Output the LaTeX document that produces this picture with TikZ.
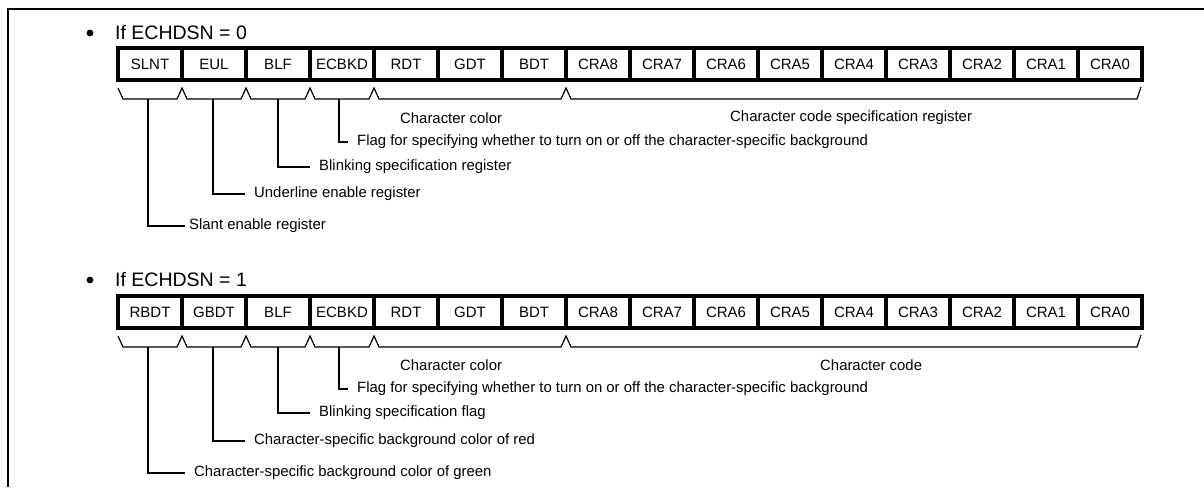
\documentclass[tikz,border=0pt]{standalone}
\usepackage{fontspec}
\setmainfont{Liberation Sans}
\begin{document}
\begin{tikzpicture}[x=1pt,y=-1pt,
  cell/.style={draw,line width=4pt,minimum width=64pt,minimum height=32pt,inner sep=0pt,outer sep=0pt,font=\fontsize{15}{17}\selectfont},
  thinl/.style={line width=1.2pt},
  lead/.style={line width=1.6pt},
  frame/.style={line width=1.6pt},
  lbl/.style={anchor=west,inner ysep=0pt,inner xsep=#1,font=\fontsize{14.9}{17}\selectfont},
  lbl/.default=9pt,
  txt/.style={anchor=west,inner sep=0pt,font=\fontsize{14.9}{17}\selectfont},
  head/.style={anchor=west,inner sep=0pt,font=\fontsize{19.5}{23}\selectfont},
  bul/.style={circle,fill,inner sep=0pt,minimum size=6.8pt}]
\useasboundingbox (0,0) rectangle (1204,487);
% frame
\draw[frame] (8,487) -- (8,9) -- (1204,9);

% ---------- row 1 ----------
\node[bul] (bu1) at (90,33) {};
\node[head] (h1) at (115,33) {If ECHDSN = 0};
\foreach \t [count=\i from 0] in {SLNT,EUL,BLF,ECBKD,RDT,GDT,BDT,CRA8,CRA7,CRA6,CRA5,CRA4,CRA3,CRA2,CRA1,CRA0}
  \node[cell] (a\i) at (150+64*\i,64) {\t};
\draw[thinl] (118,88) -- (123,99) -- (177,99) -- (182,88) -- (187,99) -- (241,99) -- (246,88) -- (251,99)
  -- (305,99) -- (310,88) -- (315,99) -- (369,99) -- (374,88) -- (379,99) -- (561,99) -- (566,88)
  -- (571,99) -- (1137,99) -- (1141,87);
\coordinate (a0b) at (148,99);
\coordinate (a1b) at (213,99);
\coordinate (a2b) at (278,99);
\coordinate (a3b) at (339,99);
\node[txt] (ccol1) at (400,118) {Character color};
\node[txt] (ccode1) at (730,118) {Character code specification register};
\node[lbl] (la3) at (348,142) {Flag for specifying whether to turn on or off the character-specific background};
\node[lbl] (la2) at (310,167) {Blinking specification register};
\node[lbl] (la1) at (245,194) {Underline enable register};
\node[lbl=4pt] (la0) at (185,226) {Slant enable register};
\draw[lead] (a3b) |- (la3.west);
\draw[lead] (a2b) |- (la2.west);
\draw[lead] (a1b) |- (la1.west);
\draw[lead] (a0b) |- (la0.west);

% ---------- row 2 ----------
\node[bul] (bu2) at (90,280) {};
\node[head] (h2) at (115,280) {If ECHDSN = 1};
\foreach \t [count=\i from 0] in {RBDT,GBDT,BLF,ECBKD,RDT,GDT,BDT,CRA8,CRA7,CRA6,CRA5,CRA4,CRA3,CRA2,CRA1,CRA0}
  \node[cell] (b\i) at (150+64*\i,312) {\t};
\draw[thinl] (118,336) -- (123,347) -- (177,347) -- (182,336) -- (187,347) -- (241,347) -- (246,336) -- (251,347)
  -- (305,347) -- (310,336) -- (315,347) -- (369,347) -- (374,336) -- (379,347) -- (561,347) -- (566,336)
  -- (571,347) -- (1137,347) -- (1141,335);
\coordinate (b0b) at (148,347);
\coordinate (b1b) at (213,347);
\coordinate (b2b) at (278,347);
\coordinate (b3b) at (339,347);
\node[txt] (ccol2) at (400,365) {Character color};
\node[txt] (ccode2) at (820,365) {Character code};
\node[lbl] (lb3) at (348,389) {Flag for specifying whether to turn on or off the character-specific background};
\node[lbl] (lb2) at (310,413) {Blinking specification flag};
\node[lbl] (lb1) at (245,441) {Character-specific background color of red};
\node[lbl] (lb0) at (185,473) {Character-specific background color of green};
\draw[lead] (b3b) |- (lb3.west);
\draw[lead] (b2b) |- (lb2.west);
\draw[lead] (b1b) |- (lb1.west);
\draw[lead] (b0b) |- (lb0.west);
\end{tikzpicture}
\end{document}
